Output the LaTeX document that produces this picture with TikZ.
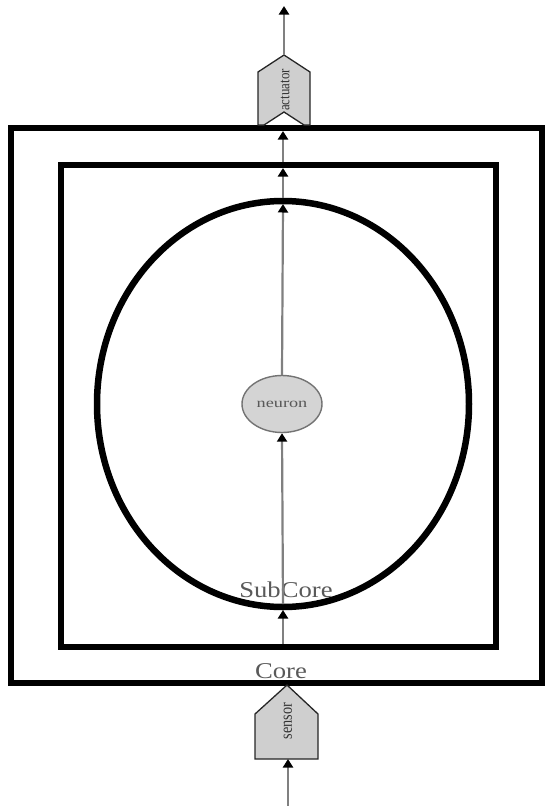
\documentclass[tikz,border=0pt]{standalone}
\usepackage{fontspec}
\usepackage{graphicx}
\setmainfont{Liberation Serif}
\usetikzlibrary{arrows.meta,shapes.geometric}
\begin{document}
\begin{tikzpicture}[x=1pt,y=-1pt,
  cluster/.style={draw=black,line width=6.5pt},
  flow/.style={draw=black!50,line width=2.2pt,-{Triangle[width=10pt,length=8.5pt,color=black]}},
  port/.style={draw=black!85,fill=black!19,line width=1.3pt,line join=miter},
  lbl/.style={text=black!65,inner sep=0pt}]
\useasboundingbox (0,0) rectangle (545,806);
% clusters
\draw[cluster] (11,128) rectangle (542,683);
\draw[cluster] (61,165) rectangle (496,647);
\node[cluster,ellipse,minimum width=372pt,minimum height=406pt,inner sep=0pt,outer sep=0pt] (sub) at (283,404) {};
% labels
\node[lbl,font=\fontsize{22.6}{26}\selectfont] (sublbl) at (286,590) {\scalebox{1.18}[1]{SubCore}};
\node[lbl,font=\fontsize{22.6}{26}\selectfont] (corelbl) at (281,671) {\scalebox{1.18}[1]{Core}};
% neuron
\node[ellipse,draw=black!55,fill=black!17,line width=1.4pt,minimum width=80pt,minimum height=57pt,inner sep=0pt] (neuron) at (282,404)
  {\textcolor{black!65}{\fontsize{13.5}{15}\selectfont\scalebox{1.35}[1]{neuron}}};
% actuator
\draw[port] (258,125) -- (258,72) -- (284,55) -- (310,72) -- (310,125) -- (304,125) -- (284,112) -- (264,125) -- cycle;
\node[lbl,rotate=90,font=\fontsize{14}{16}\selectfont,text=black!80] (act) at (285,90) {\scalebox{0.92}[1.1]{actuator}};
\coordinate (actTop) at (284,55);
\coordinate (outTop) at (284,6);
% sensor
\draw[port] (255,759) -- (255,714) -- (287,685) -- (318,714) -- (318,759) -- cycle;
\node[lbl,rotate=90,font=\fontsize{15}{17}\selectfont,text=black!80] (sens) at (288,721) {\scalebox{0.95}[1.15]{sensor}};
\coordinate (sensBot) at (288,759);
\coordinate (inBot) at (288,806);
% boundary points
\coordinate (coreTopIn) at (283,131);
\coordinate (subTopOut) at (283,162);
\coordinate (subTopIn) at (283,168);
\coordinate (ellTopOut) at (283,198);
\coordinate (ellTopIn) at (283,204);
\coordinate (ellBotOut) at (283,610);
\coordinate (ellBotIn) at (283,604);
\coordinate (subBotIn) at (283,644);
% connectors
\draw[flow] (inBot) -- (sensBot);
\draw[flow] (subBotIn) -- (ellBotOut);
\draw[flow] (ellBotIn) -- (neuron.south);
\draw[flow] (neuron.north) -- (ellTopIn);
\draw[flow] (ellTopOut) -- (subTopIn);
\draw[flow] (subTopOut) -- (coreTopIn);
\draw[flow] (actTop) -- (outTop);
\end{tikzpicture}
\end{document}
